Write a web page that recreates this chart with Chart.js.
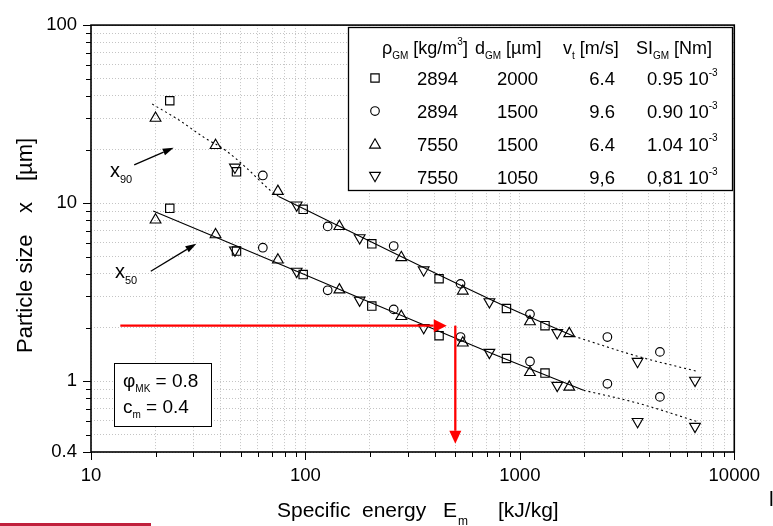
<!DOCTYPE html>
<html>
<head>
<meta charset="utf-8">
<script src="https://cdn.jsdelivr.net/npm/chart.js@4.4.0/dist/chart.umd.min.js"></script>
<style>
  html, body { margin: 0; padding: 0; background: #fff; }
  #wrap { position: relative; width: 773px; height: 526px; overflow: hidden; }
  #bar { position: absolute; left: 0; top: 523px; width: 151px; height: 3px; background: #c0203c; }
  #cut { position: absolute; left: 769px; top: 487px; font: 21px "Liberation Sans", Arial, sans-serif; color: #000; }
</style>
</head>
<body>
<div id="wrap">
  <canvas id="chart" width="773" height="526"></canvas>
  <div id="bar"></div>
  <span id="cut">l</span>
</div>
<script>
/* Particle size x50 / x90 vs specific energy, log-log */

const FONT = '"Liberation Sans", Arial, sans-serif';

// axis ticks
const eTicks = [10, 20, 30, 40, 50, 60, 70, 80, 90,
  100, 200, 300, 400, 500, 600, 700, 800, 900,
  1000, 2000, 3000, 4000, 5000, 6000, 7000, 8000, 9000, 10000];
const eMajor = [10, 100, 1000, 10000];
const xTicks = [0.4, 0.5, 0.6, 0.7, 0.8, 0.9,
  1, 2, 3, 4, 5, 6, 7, 8, 9,
  10, 20, 30, 40, 50, 60, 70, 80, 90, 100];
const xMajor = [0.4, 1, 10, 100];

// measurements (E_m in kJ/kg, x in µm)
const squareE   = [23.3, 47.7, 97.6, 204, 420, 866, 1310];
const squareX90 = [37.6, 15.0, 9.23, 5.91, 3.76, 2.56, 2.05];
const squareX50 = [9.35, 5.38, 3.97, 2.64, 1.80, 1.34, 1.11];

const circleE   = [63.3, 127, 258, 529, 1115, 2560, 4500];
const circleX90 = [14.3, 7.40, 5.74, 3.52, 2.38, 1.77, 1.46];
const circleX50 = [5.62, 3.24, 2.53, 1.77, 1.29, 0.967, 0.816];

const triE   = [20.0, 38.1, 74.4, 144, 280, 542, 1115, 1700];
const triX90 = [30.0, 21.1, 11.65, 7.40, 4.95, 3.21, 2.16, 1.85];
const triX50 = [8.05, 6.65, 4.80, 3.26, 2.31, 1.64, 1.12, 0.926];

const invE   = [46.9, 91, 179, 356, 721, 1494, 3540, 6560];
const invX90 = [15.9, 9.75, 6.38, 4.21, 2.79, 1.87, 1.29, 1.01];
const invX50 = [5.45, 4.14, 2.85, 2.00, 1.45, 0.946, 0.593, 0.557];

// fit curves
const x90HeadE = [19.3, 25.6, 34.0, 41.9, 53.6, 68.5, 75];
const x90HeadX = [36.0, 29.4, 23.2, 20.0, 15.6, 11.8, 10.9];
const x90FitE  = [75, 751, 1782];
const x90FitX  = [10.9, 2.83, 1.79];
const x90TailE = [1782, 3540, 6800];
const x90TailX = [1.79, 1.38, 1.13];

const x50FitE  = [19.5, 91.1, 751, 1982];
const x50FitX  = [9.04, 4.14, 1.42, 0.889];
const x50TailE = [1982, 3540, 6800];
const x50TailX = [0.889, 0.753, 0.59];

// read-off arrows (red) and label arrows (black)
const readE = [13.7, 456];
const readX = 2.05;
const readDownE = 500;
const readDownX = [2.05, 0.445];
const x90ArrowE = [15.9, 24.3];
const x90ArrowX = [16.4, 20.5];
const x50ArrowE = [19.0, 31.0];
const x50ArrowX = [4.14, 5.92];

// legend table
const legendRho = ['2894', '2894', '7550', '7550'];
const legendD   = ['2000', '1500', '1500', '1050'];
const legendV   = ['6.4', '9.6', '6.4', '9,6'];
const legendSI  = ['0.95 10', '0.90 10', '1.04 10', '0,81 10'];

const pts = (xs, ys) => xs.map((x, i) => ({ x, y: ys[i] }));

function markerSet(xs, ys, style, radius, rotation) {
  return {
    data: pts(xs, ys),
    showLine: false,
    pointStyle: style,
    pointRadius: radius,
    pointHoverRadius: radius,
    pointRotation: rotation || 0,
    pointBorderColor: '#000',
    pointBackgroundColor: 'rgba(0,0,0,0)',
    pointBorderWidth: 1.15
  };
}

function curve(xs, ys, dashed) {
  return {
    data: pts(xs, ys),
    showLine: true,
    borderColor: '#000',
    borderWidth: 1.1,
    borderDash: dashed ? [2, 3] : [],
    pointRadius: 0,
    cubicInterpolationMode: 'monotone',
    tension: 0.4
  };
}

function drawMarker(ctx, style, x, y, r) {
  ctx.beginPath();
  if (style === 'rect') {
    const s = r * Math.SQRT1_2;
    ctx.rect(x - s, y - s, 2 * s, 2 * s);
  } else if (style === 'circle') {
    ctx.arc(x, y, r, 0, Math.PI * 2);
  } else {
    const d = style === 'down' ? -1 : 1;
    ctx.moveTo(x, y - d * r);
    ctx.lineTo(x + r * 0.866, y + d * r / 2);
    ctx.lineTo(x - r * 0.866, y + d * r / 2);
    ctx.closePath();
  }
  ctx.stroke();
}

// parts: [text, 0 normal | 1 sub | 2 sup]
function rich(ctx, parts, x, y, size) {
  let cx = x;
  parts.forEach(([t, k]) => {
    const fs = k ? Math.round(size * 0.55) : size;
    ctx.font = `${fs}px ${FONT}`;
    const dy = k === 1 ? size * 0.28 : k === 2 ? -size * 0.5 : 0;
    ctx.fillText(t, cx, y + dy);
    cx += ctx.measureText(t).width;
  });
}

function arrow(ctx, x1, y1, x2, y2, color, width, headLen, headW) {
  const a = Math.atan2(y2 - y1, x2 - x1);
  const bx = x2 - headLen * Math.cos(a), by = y2 - headLen * Math.sin(a);
  ctx.strokeStyle = color;
  ctx.fillStyle = color;
  ctx.lineWidth = width;
  ctx.setLineDash([]);
  ctx.beginPath();
  ctx.moveTo(x1, y1);
  ctx.lineTo(bx, by);
  ctx.stroke();
  ctx.beginPath();
  ctx.moveTo(x2, y2);
  ctx.lineTo(bx + headW / 2 * Math.sin(a), by - headW / 2 * Math.cos(a));
  ctx.lineTo(bx - headW / 2 * Math.sin(a), by + headW / 2 * Math.cos(a));
  ctx.closePath();
  ctx.fill();
}

const decorations = {
  id: 'decorations',
  afterDatasetsDraw(chart) {
    const { ctx, chartArea: a, scales: { x, y } } = chart;
    ctx.save();

    // frame
    ctx.strokeStyle = '#000';
    ctx.lineWidth = 1.6;
    ctx.strokeRect(a.left, a.top, a.right - a.left, a.bottom - a.top);

    // tick marks
    ctx.lineWidth = 1;
    ctx.beginPath();
    eTicks.forEach(v => {
      const px = Math.round(x.getPixelForValue(v)) + 0.5;
      ctx.moveTo(px, a.bottom);
      ctx.lineTo(px, a.bottom + (eMajor.includes(v) ? 8 : 5));
    });
    xTicks.forEach(v => {
      const py = Math.round(y.getPixelForValue(v)) + 0.5;
      ctx.moveTo(a.left, py);
      ctx.lineTo(a.left - (xMajor.includes(v) ? 8 : 5), py);
    });
    ctx.stroke();

    // red read-off arrows
    const ry = y.getPixelForValue(readX);
    arrow(ctx, x.getPixelForValue(readE[0]), ry, x.getPixelForValue(readE[1]), ry, '#ff0000', 2.3, 13, 13);
    const rx = x.getPixelForValue(readDownE);
    arrow(ctx, rx, y.getPixelForValue(readDownX[0]), rx, y.getPixelForValue(readDownX[1]), '#ff0000', 2.3, 13, 12);

    // label arrows
    arrow(ctx, x.getPixelForValue(x90ArrowE[0]), y.getPixelForValue(x90ArrowX[0]),
      x.getPixelForValue(x90ArrowE[1]), y.getPixelForValue(x90ArrowX[1]), '#000', 1.3, 11, 7);
    arrow(ctx, x.getPixelForValue(x50ArrowE[0]), y.getPixelForValue(x50ArrowX[0]),
      x.getPixelForValue(x50ArrowE[1]), y.getPixelForValue(x50ArrowX[1]), '#000', 1.3, 11, 7);

    ctx.fillStyle = '#000';
    ctx.textAlign = 'left';
    ctx.textBaseline = 'alphabetic';
    rich(ctx, [['x', 0], ['90', 1]], 110, 177, 20);
    rich(ctx, [['x', 0], ['50', 1]], 115, 278, 20);

    // parameter box
    ctx.fillStyle = '#fff';
    ctx.fillRect(114.5, 363.5, 97, 63);
    ctx.strokeStyle = '#000';
    ctx.lineWidth = 1;
    ctx.strokeRect(114.5, 363.5, 97, 63);
    ctx.fillStyle = '#000';
    rich(ctx, [['φ', 0], ['MK', 1], [' = 0.8', 0]], 123, 387, 19);
    rich(ctx, [['c', 0], ['m', 1], [' = 0.4', 0]], 123, 413, 19);

    // legend table
    ctx.fillStyle = '#fff';
    ctx.fillRect(348.5, 27.5, 384, 163);
    ctx.lineWidth = 1.3;
    ctx.strokeRect(348.5, 27.5, 384, 163);
    ctx.fillStyle = '#000';
    rich(ctx, [['ρ', 0], ['GM', 1], [' [kg/m', 0], ['3', 2], [']', 0]], 382, 54, 18);
    rich(ctx, [['d', 0], ['GM', 1], [' [µm]', 0]], 475, 54, 18);
    rich(ctx, [['v', 0], ['t', 1], [' [m/s]', 0]], 563, 54, 18);
    rich(ctx, [['SI', 0], ['GM', 1], [' [Nm]', 0]], 636, 54, 18);

    const rowY = [78, 111, 143.5, 177];
    const styles = ['rect', 'circle', 'up', 'down'];
    const radii = [5.9, 4.3, 6.2, 6.2];
    ctx.lineWidth = 1.15;
    rowY.forEach((ry2, i) => {
      const cy = styles[i] === 'up' ? ry2 + 1.5 : styles[i] === 'down' ? ry2 - 1.5 : ry2;
      drawMarker(ctx, styles[i], 375, cy, radii[i]);
      const base = ry2 + 7;
      ctx.font = `18.5px ${FONT}`;
      ctx.textAlign = 'left';
      ctx.fillText(legendRho[i], 417, base);
      ctx.fillText(legendD[i], 497, base);
      ctx.textAlign = 'right';
      ctx.fillText(legendV[i], 615, base);
      ctx.textAlign = 'left';
      rich(ctx, [[legendSI[i], 0], ['-3', 2]], 647, base, 18.5);
    });

    // axis titles
    ctx.font = `21px ${FONT}`;
    ctx.textAlign = 'left';
    ctx.fillText('Specific', 277, 517);
    ctx.fillText('energy', 362, 517);
    ctx.fillText('E', 443, 517);
    ctx.font = `12px ${FONT}`;
    ctx.fillText('m', 458, 525);
    ctx.font = `21px ${FONT}`;
    ctx.fillText('[kJ/kg]', 498, 517);

    ctx.font = `22px ${FONT}`;
    ctx.translate(31.5, 0);
    ctx.rotate(-Math.PI / 2);
    ctx.fillText('Particle size', -353, 0);
    ctx.fillText('x', -213, 0);
    ctx.fillText('[µm]', -181, 0);

    ctx.restore();
  }
};

const gridOpts = { color: '#c4c4c4', lineWidth: 1, drawTicks: false };
const borderOpts = { display: false, dash: [1, 2] };
const tickFont = { family: FONT, size: 18.5 };

new Chart(document.getElementById('chart'), {
  type: 'scatter',
  data: {
    datasets: [
      markerSet(squareE, squareX90, 'rect', 5.9),
      markerSet(squareE, squareX50, 'rect', 5.9),
      markerSet(circleE, circleX90, 'circle', 4.3),
      markerSet(circleE, circleX50, 'circle', 4.3),
      markerSet(triE, triX90, 'triangle', 6.2),
      markerSet(triE, triX50, 'triangle', 6.2),
      markerSet(invE, invX90, 'triangle', 6.2, 180),
      markerSet(invE, invX50, 'triangle', 6.2, 180),
      curve(x90HeadE, x90HeadX, true),
      curve(x90FitE, x90FitX, false),
      curve(x90TailE, x90TailX, true),
      curve(x50FitE, x50FitX, false),
      curve(x50TailE, x50TailX, true)
    ]
  },
  options: {
    responsive: false,
    animation: false,
    layout: { padding: { top: 17, right: 28, left: 0, bottom: 0 } },
    plugins: { legend: { display: false }, tooltip: { enabled: false } },
    scales: {
      x: {
        type: 'logarithmic',
        min: 10,
        max: 10000,
        afterBuildTicks: s => { s.ticks = eTicks.map(v => ({ value: v })); },
        afterFit: s => { s.height = 74; },
        ticks: {
          autoSkip: false,
          maxRotation: 0,
          padding: 13,
          color: '#000',
          font: tickFont,
          callback: v => eMajor.includes(v) ? String(v) : ''
        },
        grid: gridOpts,
        border: borderOpts
      },
      y: {
        type: 'logarithmic',
        min: 0.4,
        max: 100,
        afterBuildTicks: s => { s.ticks = xTicks.map(v => ({ value: v })); },
        afterFit: s => { s.width = 91; },
        ticks: {
          autoSkip: false,
          padding: 14,
          color: '#000',
          font: tickFont,
          callback: v => xMajor.includes(v) ? String(v) : ''
        },
        grid: gridOpts,
        border: borderOpts
      }
    }
  },
  plugins: [decorations]
});
</script>
</body>
</html>
